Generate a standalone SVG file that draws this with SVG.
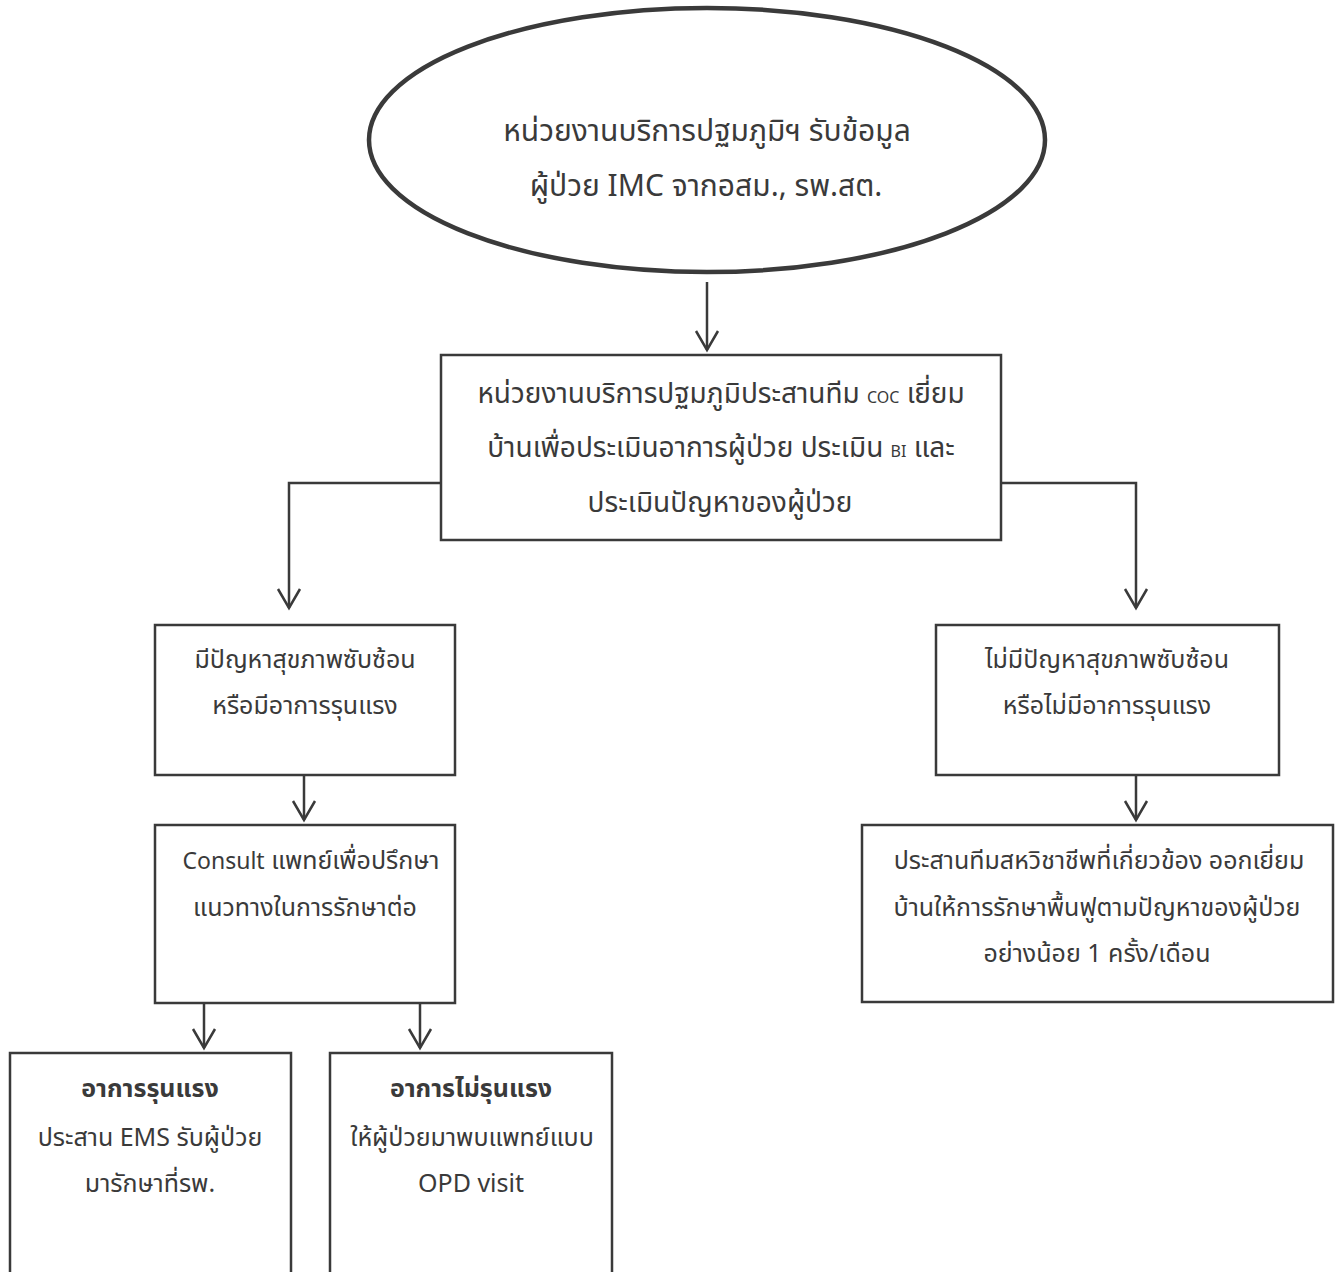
<svg xmlns="http://www.w3.org/2000/svg" width="1335" height="1272" viewBox="0 0 1335 1272">
<defs>
<style>
.box{fill:#fff;stroke:#3a3a3a;stroke-width:2.5}
.ell{fill:#fff;stroke:#3a3a3a;stroke-width:4.5}
.t{font-family:"Noto Sans","Noto Sans Thai",Tahoma,sans-serif;font-size:25px;fill:#3a3a3a;text-anchor:middle}
.big{font-size:30px}
.mid{font-size:28px}
.b{font-weight:bold}
.sc{font-size:16px}
.ln{fill:none;stroke:#3a3a3a;stroke-width:2.5}
</style>
</defs>
<rect width="1335" height="1272" fill="#fff"/>
<g id="connectors">
<path class="ln" d="M707,282 V350"/>
<path class="ln" d="M441,483 H289 V608"/>
<path class="ln" d="M1001,483 H1136 V608"/>
<path class="ln" d="M304,775 V820"/>
<path class="ln" d="M1136,775 V820"/>
<path class="ln" d="M204,1003 V1048"/>
<path class="ln" d="M420,1003 V1048"/>
<polyline class="ln" points="696,331 707,350 718,331"/>
<polyline class="ln" points="278,589 289,608 300,589"/>
<polyline class="ln" points="1125,589 1136,608 1147,589"/>
<polyline class="ln" points="293,801 304,820 315,801"/>
<polyline class="ln" points="1125,801 1136,820 1147,801"/>
<polyline class="ln" points="193,1029 204,1048 215,1029"/>
<polyline class="ln" points="409,1029 420,1048 431,1029"/>
</g>
<g id="start">
<ellipse class="ell" cx="707" cy="140" rx="338" ry="132"/>
<text class="t big" x="707" y="141">หน่วยงานบริการปฐมภูมิฯ รับข้อมูล</text>
<text class="t big" x="706" y="196">ผู้ป่วย IMC จากอสม., รพ.สต.</text>
</g>
<g id="assess">
<rect class="box" x="441" y="355" width="560" height="185"/>
<text class="t mid" x="721" y="403">หน่วยงานบริการปฐมภูมิประสานทีม <tspan class="sc">COC</tspan> เยี่ยม</text>
<text class="t mid" x="721" y="457">บ้านเพื่อประเมินอาการผู้ป่วย ประเมิน <tspan class="sc" font-size="14">BI</tspan> และ</text>
<text class="t mid" x="720" y="512">ประเมินปัญหาของผู้ป่วย</text>
</g>
<g id="complex">
<rect class="box" x="155" y="625" width="300" height="150"/>
<text class="t" x="305" y="668">มีปัญหาสุขภาพซับซ้อน</text>
<text class="t" x="305" y="714">หรือมีอาการรุนแรง</text>
</g>
<g id="notcomplex">
<rect class="box" x="936" y="625" width="343" height="150"/>
<text class="t" x="1107" y="668">ไม่มีปัญหาสุขภาพซับซ้อน</text>
<text class="t" x="1107" y="714">หรือไม่มีอาการรุนแรง</text>
</g>
<g id="consult">
<rect class="box" x="155" y="825" width="300" height="178"/>
<text class="t" x="311" y="869"><tspan font-size="23">Consult</tspan> แพทย์เพื่อปรึกษา</text>
<text class="t" x="305" y="916">แนวทางในการรักษาต่อ</text>
</g>
<g id="team">
<rect class="box" x="862" y="825" width="471" height="177"/>
<text class="t" x="1099" y="869">ประสานทีมสหวิชาชีพที่เกี่ยวข้อง ออกเยี่ยม</text>
<text class="t" x="1097" y="916">บ้านให้การรักษาพื้นฟูตามปัญหาของผู้ป่วย</text>
<text class="t" x="1097" y="962">อย่างน้อย 1 ครั้ง/เดือน</text>
</g>
<g id="severe">
<rect class="box" x="10" y="1053" width="281" height="230"/>
<text class="t b" x="150" y="1097">อาการรุนแรง</text>
<text class="t" x="150" y="1146">ประสาน EMS รับผู้ป่วย</text>
<text class="t" x="150" y="1192">มารักษาที่รพ.</text>
</g>
<g id="mild">
<rect class="box" x="330" y="1053" width="282" height="230"/>
<text class="t b" x="471" y="1097">อาการไม่รุนแรง</text>
<text class="t" x="472" y="1146">ให้ผู้ป่วยมาพบแพทย์แบบ</text>
<text class="t" x="471" y="1192">OPD visit</text>
</g>
</svg>
